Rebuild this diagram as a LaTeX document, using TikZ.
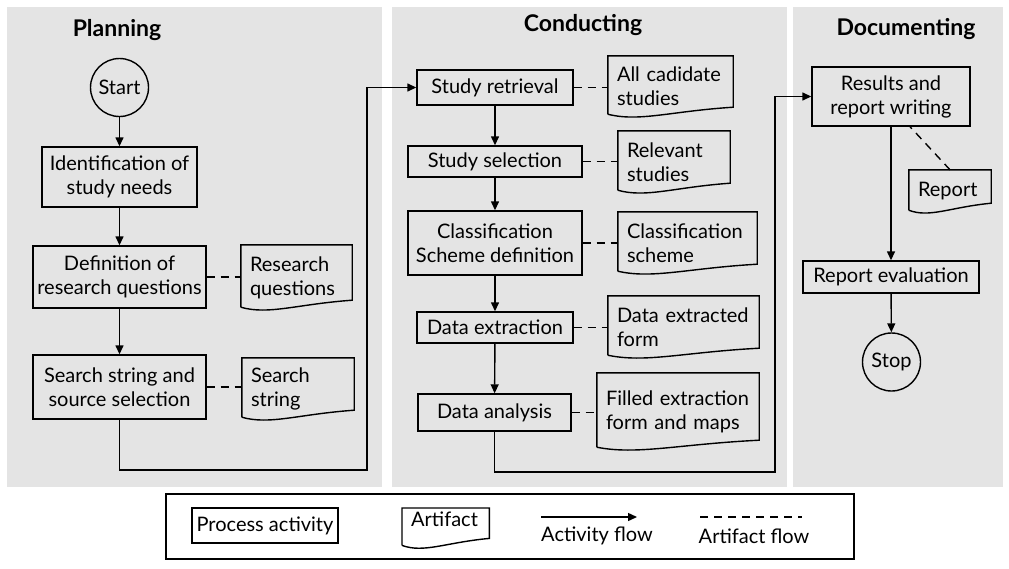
\documentclass[tikz,border=0pt]{standalone}
\usepackage{fontspec}
\setmainfont{Lato}
\usetikzlibrary{calc,arrows.meta}
\definecolor{panelgray}{HTML}{E4E4E4}
\tikzset{
  activity/.style={draw,line width=1.4pt,align=center,inner sep=0pt},
  artifact/.style={align=left,inner xsep=9pt,inner ysep=0pt,text width=#1},
  terminal/.style={draw,circle,line width=1.4pt,inner sep=0pt,minimum size=58pt},
  flowarrow/.style={line width=1.4pt,-{Triangle[length=9pt,width=8pt]}},
  artflow/.style={line width=1.4pt,dash pattern=on 8pt off 6pt},
  paneltitle/.style={font=\fontsize{23}{27}\selectfont\bfseries}
}
\begin{document}
\begin{tikzpicture}[x=1pt,y=-1pt,every node/.style={font=\fontsize{20}{24}\selectfont}]
\useasboundingbox (0,0) rectangle (1009,568);
% panels
\fill[panelgray] (7,7) rectangle (382,487);
\fill[panelgray] (392,7) rectangle (787,487);
\fill[panelgray] (793,7) rectangle (1003,487);
\node[paneltitle] (tplan) at (117,30) {Planning};
\node[paneltitle] (tcond) at (583,25) {Conducting};
\node[paneltitle] (tdoc) at (906,29) {Documenting};

% planning
\node[terminal] (start) at (119.5,87.5) {Start};
\node[activity,minimum width=155,minimum height=60] (ident) at (119.5,177) {Identification of\\study needs};
\node[activity,minimum width=173,minimum height=62] (defrq) at (119.5,277) {Definition of\\research questions};
\node[activity,minimum width=173,minimum height=64] (search) at (119.5,387) {Search string and\\source selection};
\node[artifact=93,minimum height=65] (rq) at (296.5,277.5) {Research\\questions};
\node[artifact=94,minimum height=62] (ss) at (298,389) {Search\\string};

% conducting
\node[activity,minimum width=156,minimum height=35] (retr) at (495,87.5) {Study retrieval};
\node[activity,minimum width=174,minimum height=31] (sel) at (495,161.5) {Study selection};
\node[activity,minimum width=174,minimum height=64] (clsdef) at (495,243) {Classification\\Scheme definition};
\node[activity,minimum width=156,minimum height=31] (dx) at (495,327.5) {Data extraction};
\node[activity,minimum width=153,minimum height=37] (da) at (494.5,412.5) {Data analysis};
\node[artifact=107,minimum height=61] (acs) at (670.5,86.5) {All cadidate\\studies};
\node[artifact=94,minimum height=62] (rel) at (674,162) {Relevant\\studies};
\node[artifact=121,minimum height=62] (cls) at (687.5,243) {Classification\\scheme};
\node[artifact=133,minimum height=62] (dxf) at (683.5,327) {Data extracted\\form};
\node[artifact=144,minimum height=77] (filled) at (678,411.5) {Filled extraction\\form and maps};

% documenting
\node[activity,minimum width=158,minimum height=59] (res) at (891,96.5) {Results and\\report writing};
\node[artifact=64,minimum height=43] (rep) at (950,191.5) {Report};
\node[activity,minimum width=176,minimum height=32] (reval) at (891,277) {Report evaluation};
\node[terminal] (stop) at (891.5,362) {Stop};

% legend
\draw[line width=1.4pt,fill=white] (166,494) rectangle (854,559);
\node[activity,minimum width=146,minimum height=35] (lgact) at (265,525.5) {Process activity};
\node[artifact=69,minimum height=40,anchor=north west,text depth=18pt] (lgart) at (402,508) {Artifact};
\coordinate (af1) at (541,517);
\coordinate (af2) at (637,517);
\coordinate (df1) at (700,517);
\coordinate (df2) at (802,517);
\node (lgaf) at (597,536) {Activity flow};
\node (lgdf) at (754,536) {Artifact flow};

% artifact shapes
\foreach \n in {rq,ss,acs,rel,cls,dxf,filled,rep,lgart}
  \draw[line width=1.4pt] ([yshift=3pt]\n.south west) -- (\n.north west) -- (\n.north east) -- ([yshift=10pt]\n.south east)
    .. controls ([yshift=6pt]$(\n.south west)!0.5!(\n.south east)$) and ([yshift=-5pt]$(\n.south west)!0.25!(\n.south east)$) .. ([yshift=3pt]\n.south west);

% activity flow
\foreach \a/\b in {start/ident,ident/defrq,defrq/search,retr/sel,sel/clsdef,clsdef/dx,dx/da,res/reval,reval/stop}
  \draw[flowarrow] (\a) -- (\b);
\draw[flowarrow] (search.south) -- (119.5,470) -- (367,470) |- (retr.west);
\draw[flowarrow] (da.south) -- (494.5,472) -- (775,472) |- (res.west);
\draw[flowarrow] (af1) -- (af2);

% artifact flow
\foreach \a/\b in {defrq/rq,search/ss,retr/acs,sel/rel,clsdef/cls,dx/dxf,da/filled}
  \draw[artflow] (\a.east) -- (\a.east -| \b.west);
\draw[artflow] (rep.north) -- ([xshift=19pt]res.south);
\draw[artflow] (df1) -- (df2);
\end{tikzpicture}
\end{document}
